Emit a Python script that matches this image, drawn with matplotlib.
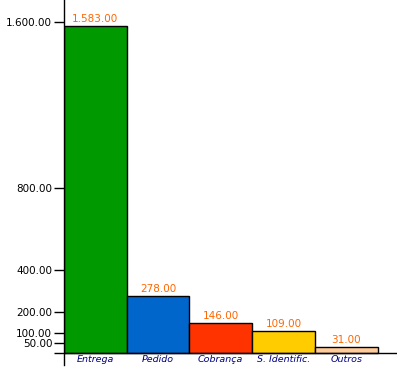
import matplotlib
matplotlib.use("Agg")
import matplotlib.pyplot as plt

# data
categories = ["Entrega", "Pedido", "Cobrança", "S. Identific.", "Outros"]
values = [1583, 278, 146, 109, 31]
value_labels = ["1.583.00", "278.00", "146.00", "109.00", "31.00"]
bar_colors = ["#009900", "#0066cc", "#ff3300", "#ffcc00", "#ffcc99"]
y_ticks = [0, 50, 100, 200, 400, 800, 1600]
y_tick_labels = ["", "50.00", "100.00", "200.00", "400.00", "800.00", "1.600.00"]

plt.rcParams["font.family"] = ["DejaVu Sans"]

fig = plt.figure(figsize=(3.99, 3.70), dpi=100)
ax = fig.add_axes([64 / 399, 5 / 370, 333 / 399, 365 / 370])

x = list(range(len(categories)))
ax.bar(x, values, width=1.0, align="edge", color=bar_colors,
       edgecolor="black", linewidth=1.0, zorder=2)

for xi, v, lab in zip(x, values, value_labels):
    ax.annotate(lab, (xi + 0.5, v), xytext=(0, 1.5), textcoords="offset points",
                ha="center", va="bottom", color="#ff6600", fontsize=7.5)

for xi, cat in zip(x, categories):
    ax.annotate(cat, (xi + 0.5, 0), xytext=(0, -1.5), textcoords="offset points",
                ha="center", va="top", color="#000080", fontsize=6.8, style="italic")

ax.axhline(0, color="black", linewidth=1.0, zorder=3)

ax.set_xlim(0, 5.31)
ax.set_ylim(-57, 1707)
ax.set_yticks(y_ticks)
ax.set_yticklabels(y_tick_labels)
ax.set_xticks([])
ax.tick_params(axis="y", length=7, width=1, pad=1.5, labelsize=7.5)

for side in ["top", "right", "bottom"]:
    ax.spines[side].set_visible(False)
ax.spines["left"].set_linewidth(1.0)

fig.savefig("out.png", dpi=100)
